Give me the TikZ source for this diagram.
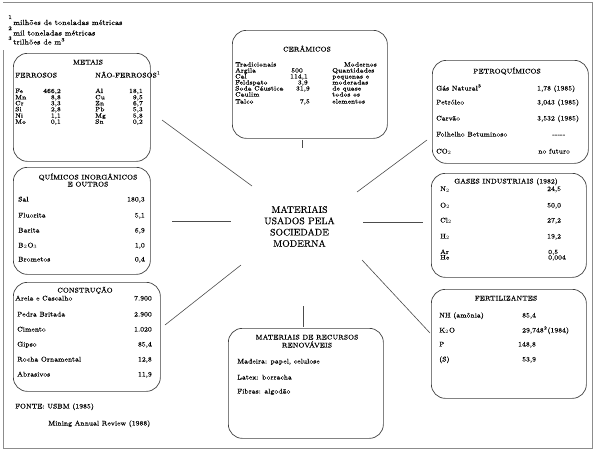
\documentclass[tikz,border=0pt]{standalone}
\usepackage{fontspec}
\setmainfont{Latin Modern Roman}[FakeBold=0.35]
\begin{document}
\begin{tikzpicture}[x=1pt,y=-1pt,
  box/.style={draw=black!75, line width=0.7pt, rounded corners=14pt, inner sep=0pt, anchor=north west},
  tx/.style={inner sep=0pt, font=\fontsize{6.8}{7}\selectfont},
  sm/.style={inner sep=0pt, font=\fontsize{6.3}{6.5}\selectfont},
  L/.style={tx, anchor=base west},
  R/.style={tx, anchor=base east},
  T/.style={tx, anchor=base},
  SL/.style={sm, anchor=base west},
  SR/.style={sm, anchor=base east},
  link/.style={draw=black!70, line width=0.6pt},
  frame/.style={draw=black!45, line width=0.6pt}]
\useasboundingbox (0,0) rectangle (598,450);
% outer frame
\draw[frame] (3,50) -- (3,448) -- (592,448) -- (592,2) -- (3,2);

% footnotes
\node[L, font=\fontsize{5.5}{6}\selectfont] (s1) at (8,19) {1};
\node[L, font=\fontsize{7.3}{8}\selectfont] (fn1) at (13,25) {milhões de toneladas métricas};
\node[L, font=\fontsize{5.5}{6}\selectfont] (s2) at (8,30) {2};
\node[L, font=\fontsize{7.3}{8}\selectfont] (fn2) at (13,35.5) {mil toneladas métricas};
\node[L, font=\fontsize{5.5}{6}\selectfont] (s3) at (8,40) {3};
\node[L, font=\fontsize{7.3}{8}\selectfont] (fn3) at (13,44.5) {trilhões de m\textsuperscript{3}};

% boxes
\node[box, minimum width=137pt, minimum height=108pt] (metais) at (13,53) {};
\node[box, minimum width=137pt, minimum height=107pt] (quim) at (13,167) {};
\node[box, minimum width=147pt, minimum height=109pt] (constr) at (13,282) {};
\node[box, minimum width=155pt, minimum height=108pt] (ceram) at (232,30) {};
\node[box, minimum width=156pt, minimum height=103pt] (petro) at (432,60) {};
\node[box, minimum width=155pt, minimum height=104pt] (gases) at (431,173) {};
\node[box, minimum width=155pt, minimum height=109pt] (fert) at (431,289) {};
\node[box, minimum width=155pt, minimum height=110pt] (renov) at (228,328) {};

% center
\node[inner sep=0pt, align=center, font=\fontsize{9.5}{11.3}\selectfont] (centro) at (299.5,226.5)
  {MATERIAIS\\USADOS PELA\\SOCIEDADE\\MODERNA};

% connectors
\coordinate (ca1) at (162,120); \coordinate (ca2) at (252,186);
\coordinate (cb1) at (172,221); \coordinate (cb2) at (231,221);
\coordinate (cc1) at (165,325); \coordinate (cc2) at (241,265);
\coordinate (cd1) at (427,140); \coordinate (cd2) at (357,192);
\coordinate (ce1) at (363,222); \coordinate (ce2) at (423,222);
\coordinate (cf1) at (362,260); \coordinate (cf2) at (430,333);
\coordinate (cg1) at (302,140); \coordinate (cg2) at (302,148);
\coordinate (ch1) at (303,306); \coordinate (ch2) at (303,327);
\draw[link] (ca1) -- (ca2);
\draw[link] (cb1) -- (cb2);
\draw[link] (cc1) -- (cc2);
\draw[link] (cd1) -- (cd2);
\draw[link] (ce1) -- (ce2);
\draw[link] (cf1) -- (cf2);
\draw[link] (cg1) -- (cg2);
\draw[link] (ch1) -- (ch2);

% METAIS
\node[T] (mt) at (88,64.5) {METAIS};
\node[L] (mf) at (15,77.5) {FERROSOS};
\node[L] (mn) at (95,77.5) {NÃO-FERROSOS\textsuperscript{1}};
\node[SL] (m1) at (15,93) {Fe};   \node[SR] (m1v) at (61,93) {466,2};
\node[SL] (m2) at (15,99.3) {Mn}; \node[SR] (m2v) at (61,99.3) {8,8};
\node[SL] (m3) at (15,105.3) {Cr}; \node[SR] (m3v) at (61,105.3) {3,3};
\node[SL] (m4) at (15,111.3) {Si}; \node[SR] (m4v) at (61,111.3) {2,8};
\node[SL] (m5) at (15,117.7) {Ni}; \node[SR] (m5v) at (61,117.7) {1,1};
\node[SL] (m6) at (15,123.7) {Mo}; \node[SR] (m6v) at (61,123.7) {0,1};
\node[SL] (n1) at (95,93) {Al};   \node[SR] (n1v) at (143,93) {18,1};
\node[SL] (n2) at (95,99.3) {Cu}; \node[SR] (n2v) at (143,99.3) {9,5};
\node[SL] (n3) at (95,105.3) {Zn}; \node[SR] (n3v) at (143,105.3) {6,7};
\node[SL] (n4) at (95,111.3) {Pb}; \node[SR] (n4v) at (143,111.3) {5,3};
\node[SL] (n5) at (95,117.7) {Mg}; \node[SR] (n5v) at (143,117.7) {5,8};
\node[SL] (n6) at (95,123.7) {Sn}; \node[SR] (n6v) at (143,123.7) {0,2};

% QUIMICOS
\node[T] (qt1) at (88,179.5) {QUÍMICOS INORGÂNICOS};
\node[T] (qt2) at (88,186.5) {E OUTROS};
\node[L] (q1) at (18,201.5) {Sal};      \node[R] (q1v) at (145,201.5) {180,3};
\node[L] (q2) at (18,217.5) {Fluorita}; \node[R] (q2v) at (145,217.5) {5,1};
\node[L] (q3) at (18,232.5) {Barita};   \node[R] (q3v) at (145,232.5) {6,9};
\node[L] (q4) at (18,247.5) {B$_2$O$_3$}; \node[R] (q4v) at (145,247.5) {1,0};
\node[L] (q5) at (18,261.5) {Brometos}; \node[R] (q5v) at (145,261.5) {0,4};

% CONSTRUCAO
\node[T] (kt) at (85,292.5) {CONSTRUÇÃO};
\node[L] (k1) at (15,300.5) {Areia e Cascalho}; \node[R] (k1v) at (152,300.5) {7.900};
\node[L] (k2) at (17,316.5) {Pedra Britada};    \node[R] (k2v) at (152,316.5) {2.900};
\node[L] (k3) at (17,331.5) {Cimento};          \node[R] (k3v) at (152,331.5) {1.020};
\node[L] (k4) at (17,346.5) {Gipso};            \node[R] (k4v) at (152,346.5) {85,4};
\node[L] (k5) at (17,361.5) {Rocha Ornamental}; \node[R] (k5v) at (152,361.5) {12,8};
\node[L] (k6) at (17,376.5) {Abrasivos};        \node[R] (k6v) at (152,376.5) {11,9};

% fonte
\node[L] (fo1) at (15,408.5) {FONTE: USBM (1985)};
\node[L] (fo2) at (48,425.5) {Mining Annual Review (1988)};

% CERAMICOS
\node[T] (ct) at (307,51.5) {CERÂMICOS};
\node[SL] (c0) at (235,66.5) {Tradicionais};
\node[SL] (c1) at (235,72.5) {Argila};        \node[SR] (c1v) at (303,72.5) {500};
\node[SL] (c2) at (235,78.5) {Cal};           \node[SR] (c2v) at (308,78.5) {114,1};
\node[SL] (c3) at (235,84.5) {Feldspato};     \node[SR] (c3v) at (308,84.5) {3,9};
\node[SL] (c4) at (235,90.5) {Soda Cáustica}; \node[SR] (c4v) at (310,90.5) {31,9};
\node[SL] (c5) at (235,96.5) {Caulim};
\node[SL] (c6) at (235,103.5) {Talco};        \node[SR] (c6v) at (310,103.5) {7,5};
\node[SR] (d0) at (377,66.5) {Modernos};
\node[SL] (d1) at (332,72.5) {Quantidades};
\node[SL] (d2) at (332,78.5) {pequenas e};
\node[SL] (d3) at (332,84.5) {moderadas};
\node[SL] (d4) at (332,90.5) {de quase};
\node[SL] (d5) at (332,96.5) {todos os};
\node[SL] (d6) at (332,103.5) {elementos};

% PETROQUIMICOS
\node[T] (pt) at (507,73.5) {PETROQUÍMICOS};
\node[L] (p1) at (436,90.5) {Gás Natural\textsuperscript{3}}; \node[L] (p1v) at (537,90.5) {1,78 (1985)};
\node[L] (p2) at (436,104.5) {Petróleo};  \node[L] (p2v) at (537,104.5) {3,043 (1985)};
\node[L] (p3) at (436,120.5) {Carvão};    \node[L] (p3v) at (537,120.5) {3,532 (1985)};
\node[L] (p4) at (436,136.5) {Folhelho Betuminoso}; \node[L] (p4v) at (552,136.5) {{-}{-}{-}{-}{-}};
\node[L] (p5) at (436,153.5) {CO$_2$};    \node[L] (p5v) at (538,153.5) {no futuro};

% GASES
\node[T] (gt) at (506,183.5) {GASES INDUSTRIAIS (1982)};
\node[L] (g1) at (440,191) {N$_2$};  \node[L] (g1v) at (547,191) {24,5};
\node[L] (g2) at (440,207.5) {O$_2$}; \node[L] (g2v) at (547,207.5) {50,0};
\node[L] (g3) at (440,222.5) {Cl$_2$}; \node[L] (g3v) at (547,222.5) {27,2};
\node[L] (g4) at (440,238.5) {H$_2$}; \node[L] (g4v) at (547,238.5) {19,2};
\node[SL] (g5) at (440,254) {Ar};    \node[SL] (g5v) at (548,254) {0,5};
\node[SL] (g6) at (440,259.5) {He};  \node[SL] (g6v) at (548,259.5) {0,004};

% FERTILIZANTES
\node[T] (ft) at (506,300.5) {FERTILIZANTES};
\node[L] (e1) at (439,317.5) {NH (amônia)}; \node[L] (e1v) at (522,317.5) {85,4};
\node[L] (e2) at (439,332.5) {K$_2$O};      \node[L] (e2v) at (522,332.5) {29,748\textsuperscript{2}(1984)};
\node[L] (e3) at (439,346.5) {P};           \node[L] (e3v) at (518,346.5) {148,8};
\node[L] (e4) at (439,361.5) {(S)};         \node[L] (e4v) at (522,361.5) {53,9};

% RENOVAVEIS
\node[T] (rt1) at (307,339.5) {MATERIAIS DE RECURSOS};
\node[T] (rt2) at (307,347.5) {RENOVÁVEIS};
\node[L] (r1) at (237,363.5) {Madeira: papel, celulose};
\node[L] (r2) at (237,379.5) {Latex: borracha};
\node[L] (r3) at (237,393.5) {Fibras: algodão};
\end{tikzpicture}
\end{document}
